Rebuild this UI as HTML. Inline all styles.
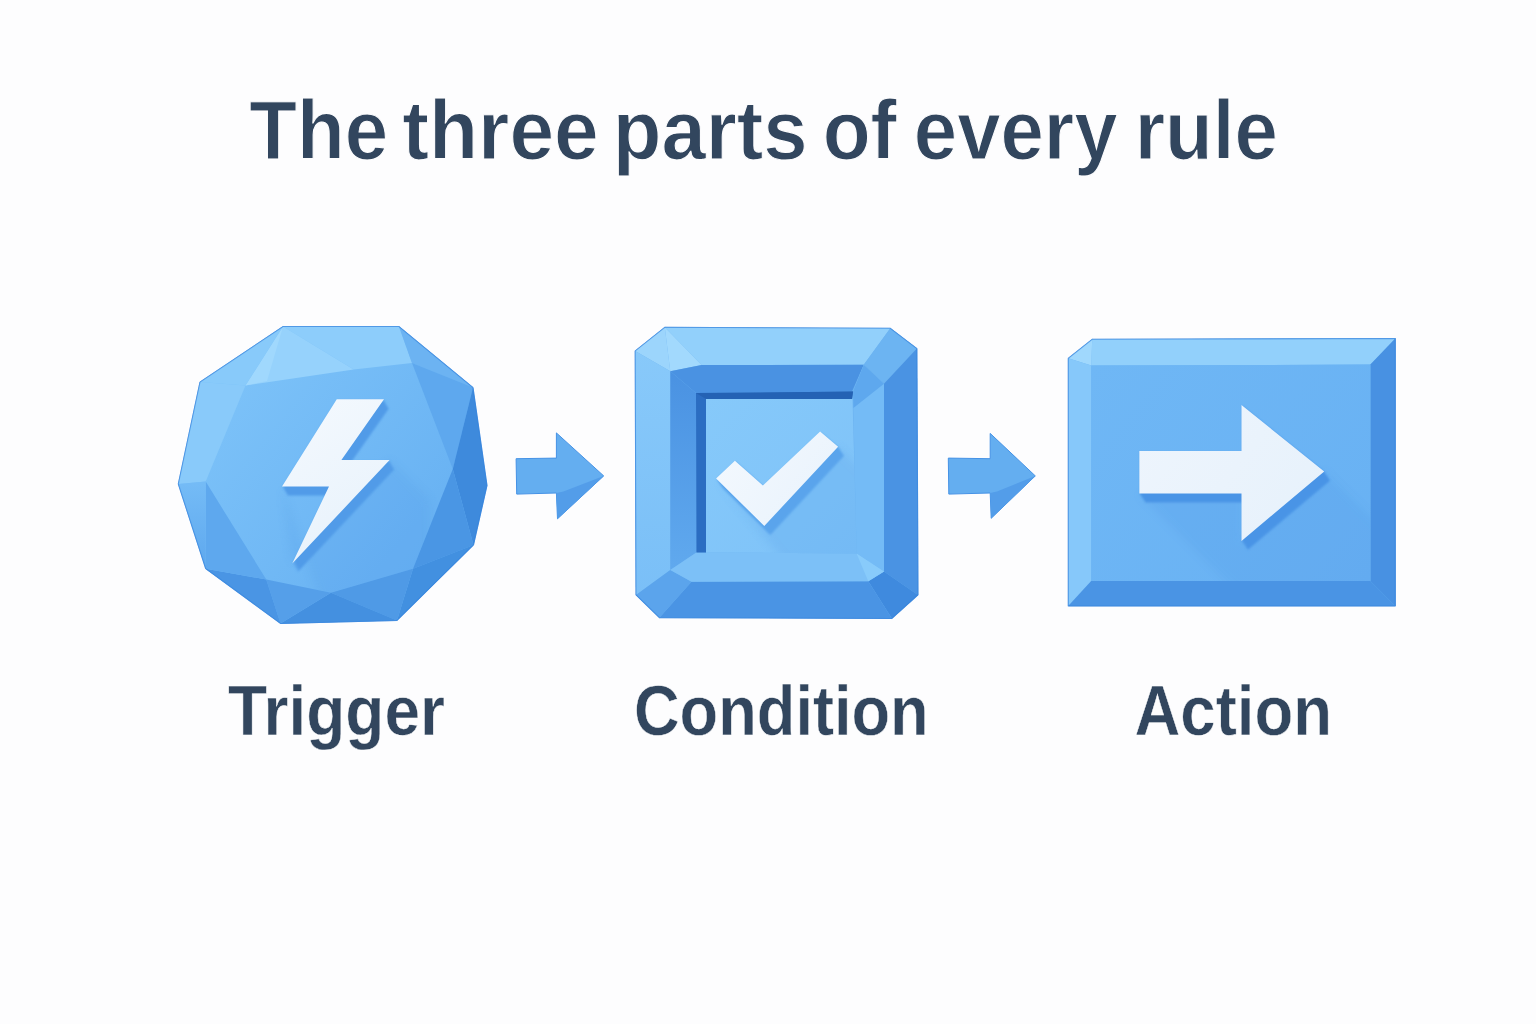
<!DOCTYPE html>
<html><head><meta charset="utf-8">
<style>
html,body{margin:0;padding:0;width:1536px;height:1024px;overflow:hidden;background:#fdfdfe;}
svg{display:block;position:absolute;left:0;top:0;}
</style></head>
<body>
<svg width="1536" height="1024" viewBox="0 0 1536 1024">
<defs>
  <filter id="blur1" x="-20%" y="-20%" width="140%" height="140%"><feGaussianBlur stdDeviation="1.2"/></filter>
  <filter id="blur2" x="-20%" y="-20%" width="140%" height="140%"><feGaussianBlur stdDeviation="2"/></filter>
  <filter id="blur3" x="-30%" y="-30%" width="160%" height="160%"><feGaussianBlur stdDeviation="4"/></filter>
  <clipPath id="clipFace"><polygon points="1091.25,365.5 1370.4,364.6 1370.4,581 1091.25,581"/></clipPath>
  <clipPath id="clipPanel"><polygon points="706,399 852.5,399 856.6,553.4 706,552.5"/></clipPath>
  <clipPath id="clipMain"><polygon points="245.5,385.5 412,363 452.8,469 413,568.7 331,592.8 266.3,579.5 205.7,481.6"/></clipPath>
  <linearGradient id="gMain" gradientUnits="userSpaceOnUse" x1="240" y1="390" x2="450" y2="560">
    <stop offset="0" stop-color="#7bc1f8"/><stop offset="1" stop-color="#66b0f2"/>
  </linearGradient>
  <linearGradient id="gBolt" gradientUnits="userSpaceOnUse" x1="290" y1="400" x2="390" y2="560">
    <stop offset="0" stop-color="#f4f9fe"/><stop offset="1" stop-color="#e6f1fb"/>
  </linearGradient>
  <linearGradient id="gCheck" gradientUnits="userSpaceOnUse" x1="716" y1="430" x2="838" y2="526">
    <stop offset="0" stop-color="#f4f9fe"/><stop offset="1" stop-color="#e8f2fc"/>
  </linearGradient>
  <linearGradient id="gArrow" gradientUnits="userSpaceOnUse" x1="1139" y1="405" x2="1324" y2="541">
    <stop offset="0" stop-color="#eef5fd"/><stop offset="1" stop-color="#e6f1fb"/>
  </linearGradient>
  <linearGradient id="gPanel" gradientUnits="userSpaceOnUse" x1="706" y1="399" x2="855" y2="554">
    <stop offset="0" stop-color="#86c9fa"/><stop offset="1" stop-color="#7ec2f8"/>
  </linearGradient>
  <linearGradient id="gFace" gradientUnits="userSpaceOnUse" x1="1092" y1="365" x2="1370" y2="581">
    <stop offset="0" stop-color="#6fb7f5"/><stop offset="1" stop-color="#68b1f3"/>
  </linearGradient>
  <linearGradient id="gLeftWall" gradientUnits="userSpaceOnUse" x1="0" y1="371" x2="0" y2="570">
    <stop offset="0" stop-color="#4a92e2"/><stop offset="1" stop-color="#60a9ee"/>
  </linearGradient>
  <linearGradient id="gLeftStrip" gradientUnits="userSpaceOnUse" x1="0" y1="484" x2="0" y2="568">
    <stop offset="0" stop-color="#74bbf6"/><stop offset="1" stop-color="#5ea8ee"/>
  </linearGradient>
  <linearGradient id="gLeftBevel" gradientUnits="userSpaceOnUse" x1="0" y1="350" x2="0" y2="595">
    <stop offset="0" stop-color="#88c9fa"/><stop offset="1" stop-color="#7abff7"/>
  </linearGradient>
</defs>
<rect width="1536" height="1024" fill="#fdfdfe"/>

<g font-family="Liberation Sans" font-weight="bold" font-size="83.5" fill="#32465e" stroke="#fdfdfe" stroke-width="1.1">
<text transform="translate(249.33,158.8) scale(0.9345,1)">The</text>
<text transform="translate(402.28,158.8) scale(0.9624,1)">three</text>
<text transform="translate(612.77,158.8) scale(0.9544,1)">parts</text>
<text transform="translate(822.64,158.8) scale(0.9397,1)">of</text>
<text transform="translate(913.76,158.8) scale(0.934,1)">every</text>
<text transform="translate(1134.69,158.8) scale(0.9345,1)">rule</text>
</g>
<g id="gem">
<polygon points="283,326.5 399,326.5 473,387.5 487,485.5 473.5,545 397,620.5 280.5,623.5 205.7,568.7 178.3,484 200,382" fill="url(#gMain)" stroke="#3d8ae0" stroke-opacity="0.7" stroke-width="1"/>
<polygon points="283,326.5 399,326.5 412,363 353.7,369.5" fill="#8dcdfb"/>
<polygon points="283,326.5 353.7,369.5 245.5,385.5" fill="#96d2fc"/>
<polygon points="283,326.5 267,381 245.5,385.5" fill="#a0d8fd"/>
<polygon points="200,382 283,326.5 245.5,385.5" fill="#88cafa"/>
<polygon points="200,382 245.5,385.5 205.7,481.6 178.3,484" fill="#89cafa"/>
<polygon points="399,326.5 473,387.5 412,363" fill="#6cb3f2"/>
<polygon points="412,363 473,387.5 452.8,469" fill="#5ea8ee"/>
<polygon points="473,387.5 487,485.5 473.5,545 452.8,469" fill="#3e8adc"/>
<polygon points="452.8,469 473.5,545 413,568.7" fill="#4a96e4"/>
<polygon points="413,568.7 473.5,545 397,620.5" fill="#4290e0"/>
<polygon points="331,592.8 413,568.7 397,620.5" fill="#4f9ae6"/>
<polygon points="331,592.8 397,620.5 280.5,623.5" fill="#4490e0"/>
<polygon points="266.3,579.5 331,592.8 280.5,623.5" fill="#559fe9"/>
<polygon points="205.7,568.7 266.3,579.5 280.5,623.5" fill="#4a95e4"/>
<polygon points="205.7,481.6 266.3,579.5 205.7,568.7" fill="#5ea8ee"/>
<polygon points="178.3,484 205.7,481.6 205.7,568.7" fill="url(#gLeftStrip)"/>
<g clip-path="url(#clipMain)"><polygon points="282,486.4 292.25,563.4 389.6,460.1 430,500 430,600 320,600" fill="#4f98e6" opacity="0.18" filter="url(#blur3)"/></g>
<polygon points="283,326.5 399,326.5 473,387.5 487,485.5 473.5,545 397,620.5 280.5,623.5 205.7,568.7 178.3,484 200,382" fill="none" stroke="#2f7fdc" stroke-opacity="0.55" stroke-width="1.1"/>
<g fill="#519be8" filter="url(#blur1)"><polygon transform="translate(0.62,1.12)" points="336.75,399.3 384,399.3 341.4,460.1 389.6,460.1 292.25,563.4 329,486.4 282,486.4"/><polygon transform="translate(1.25,2.25)" points="336.75,399.3 384,399.3 341.4,460.1 389.6,460.1 292.25,563.4 329,486.4 282,486.4"/><polygon transform="translate(1.88,3.38)" points="336.75,399.3 384,399.3 341.4,460.1 389.6,460.1 292.25,563.4 329,486.4 282,486.4"/><polygon transform="translate(2.50,4.50)" points="336.75,399.3 384,399.3 341.4,460.1 389.6,460.1 292.25,563.4 329,486.4 282,486.4"/><polygon transform="translate(3.12,5.62)" points="336.75,399.3 384,399.3 341.4,460.1 389.6,460.1 292.25,563.4 329,486.4 282,486.4"/><polygon transform="translate(3.75,6.75)" points="336.75,399.3 384,399.3 341.4,460.1 389.6,460.1 292.25,563.4 329,486.4 282,486.4"/><polygon transform="translate(4.38,7.88)" points="336.75,399.3 384,399.3 341.4,460.1 389.6,460.1 292.25,563.4 329,486.4 282,486.4"/><polygon transform="translate(5.00,9.00)" points="336.75,399.3 384,399.3 341.4,460.1 389.6,460.1 292.25,563.4 329,486.4 282,486.4"/></g>
<polygon points="336.75,399.3 384,399.3 341.4,460.1 389.6,460.1 292.25,563.4 329,486.4 282,486.4" fill="url(#gBolt)"/>
</g>
<polygon points="516.1,458.7 556.4,458.1 556.4,432.9 603.7,475.9 557.5,518.8 556.4,493 516.7,494.1" fill="#64aef0" stroke="#4592e6" stroke-width="1"/>
<polygon points="563.4,491.4 603.7,475.9 557.5,518.8 556.4,493" fill="#539de9"/>
<polygon points="948.3,458.1 990.2,458.7 990.2,433.4 1035.3,475.9 991.2,518.3 990.2,493 948.8,494.1" fill="#64aef0" stroke="#4592e6" stroke-width="1"/>
<polygon points="997,491.4 1035.3,475.9 991.2,518.3 990.2,493" fill="#539de9"/>
<g id="cond">
<polygon points="635.2,350.9 664.8,327.3 890.3,328.3 916.9,348.6 918,595 891.9,618.5 659.4,617.7 636,595" fill="#6cb3f1" stroke="#3d8ae0" stroke-opacity="0.7" stroke-width="1"/>
<polygon points="664.8,327.3 890.3,328.3 863.75,364.7 701.6,365" fill="#92d0fb"/>
<polygon points="635.2,350.9 664.8,327.3 670.3,371.25" fill="#9cd5fc"/>
<polygon points="664.8,327.3 701.6,365 670.3,371.25" fill="#a2d9fd"/>
<polygon points="635.2,350.9 670.3,371.25 670.3,570 636,595" fill="url(#gLeftBevel)"/>
<polygon points="890.3,328.3 916.9,348.6 884,383.75 863.75,364.7" fill="#6cb4f2"/>
<polygon points="916.9,348.6 918,595 884,571.6 884,383.75" fill="#4a93e3"/>
<polygon points="884,571.6 918,595 891.9,618.5 868.3,581.2" fill="#3f8ade"/>
<polygon points="691.5,581.8 868.3,581.2 891.9,618.5 659.4,617.7" fill="#4a94e4"/>
<polygon points="636,595 670.3,570 691.5,581.8 659.4,617.7" fill="#5ba4ec"/>
<polygon points="670.3,371.25 701.6,365 863.75,364.7 852,391.6 696,393" fill="#4a92e2"/>
<polygon points="670.3,371.25 696,393 696.4,552.5 670.3,570" fill="url(#gLeftWall)"/>
<polygon points="863.75,364.7 884,383.75 884,571.6 856.6,553.4 853.4,408 853,391.6" fill="#74bbf6"/>
<polygon points="863.75,364.7 884,383.75 853.4,408 853,391.6" fill="#5ea8ee"/>
<polygon points="670.3,570 696.4,552.5 856.6,553.4 884,571.6 868.3,581.2 691.5,581.8" fill="#7cc0f7"/>
<polygon points="856.6,553.4 884,571.6 868.3,581.2" fill="#88cbfb"/>
<polygon points="696,393 853,391.6 852,399 706,399 706,552.5 696.4,552.5" fill="#2b6dc2"/>
<polygon points="696,393 853,391.6 852,399 706,399" fill="#2462b4"/>
<polygon points="706,399 852.5,399 856.6,553.4 706,552.5" fill="url(#gPanel)"/>
<g clip-path="url(#clipPanel)"><polygon points="716.1,478.5 764.3,526 838.1,446.7 880,489 880,580 800,580" fill="#5aa2ea" opacity="0.25" filter="url(#blur3)"/></g>
<polygon points="635.2,350.9 664.8,327.3 890.3,328.3 916.9,348.6 918,595 891.9,618.5 659.4,617.7 636,595" fill="none" stroke="#2f7fdc" stroke-opacity="0.55" stroke-width="1.1"/>
<g fill="#5aa4ec" filter="url(#blur1)"><polygon transform="translate(0.75,1.12)" points="716.1,478.5 734.9,460.75 762.9,485.4 820.1,431.6 838.1,446.7 764.3,526"/><polygon transform="translate(1.50,2.25)" points="716.1,478.5 734.9,460.75 762.9,485.4 820.1,431.6 838.1,446.7 764.3,526"/><polygon transform="translate(2.25,3.38)" points="716.1,478.5 734.9,460.75 762.9,485.4 820.1,431.6 838.1,446.7 764.3,526"/><polygon transform="translate(3.00,4.50)" points="716.1,478.5 734.9,460.75 762.9,485.4 820.1,431.6 838.1,446.7 764.3,526"/><polygon transform="translate(3.75,5.62)" points="716.1,478.5 734.9,460.75 762.9,485.4 820.1,431.6 838.1,446.7 764.3,526"/><polygon transform="translate(4.50,6.75)" points="716.1,478.5 734.9,460.75 762.9,485.4 820.1,431.6 838.1,446.7 764.3,526"/><polygon transform="translate(5.25,7.88)" points="716.1,478.5 734.9,460.75 762.9,485.4 820.1,431.6 838.1,446.7 764.3,526"/><polygon transform="translate(6.00,9.00)" points="716.1,478.5 734.9,460.75 762.9,485.4 820.1,431.6 838.1,446.7 764.3,526"/></g>
<polygon points="716.1,478.5 734.9,460.75 762.9,485.4 820.1,431.6 838.1,446.7 764.3,526" fill="url(#gCheck)"/>
</g>
<g id="act">
<polygon points="1068.3,358.3 1092.2,339.3 1395.3,338.5 1395.3,606 1068.3,606" fill="#6cb3f1" stroke="#3d8ae0" stroke-opacity="0.7" stroke-width="1"/>
<polygon points="1092.2,339.3 1395.3,338.5 1370.4,364.6 1091.25,365.5" fill="#92d0fb"/>
<polygon points="1068.3,358.3 1092.2,339.3 1091.25,365.5" fill="#a0d8fd"/>
<polygon points="1068.3,358.3 1091.25,365.5 1091.25,581 1068.3,606" fill="#86c8fa"/>
<polygon points="1395.3,338.5 1395.3,606 1370.4,581 1370.4,364.6" fill="#4891e2"/>
<polygon points="1068.3,606 1395.3,606 1370.4,581 1091.25,581" fill="#4a94e4"/>
<polygon points="1091.25,365.5 1370.4,364.6 1370.4,581 1091.25,581" fill="url(#gFace)"/>
<g clip-path="url(#clipFace)"><polygon points="1139.35,493.6 1241.5,493.6 1241.5,540.9 1324.2,471.5 1380,527 1380,590 1236,590" fill="#4f98e6" opacity="0.2" filter="url(#blur3)"/></g>
<polygon points="1068.3,358.3 1092.2,339.3 1395.3,338.5 1395.3,606 1068.3,606" fill="none" stroke="#2f7fdc" stroke-opacity="0.55" stroke-width="1.1"/>
<g fill="#4a94e6" filter="url(#blur1)"><polygon transform="translate(0.75,1.12)" points="1139.35,451.1 1241.5,451.1 1241.5,405 1324.2,471.5 1241.5,540.9 1241.5,493.6 1139.35,493.6"/><polygon transform="translate(1.50,2.25)" points="1139.35,451.1 1241.5,451.1 1241.5,405 1324.2,471.5 1241.5,540.9 1241.5,493.6 1139.35,493.6"/><polygon transform="translate(2.25,3.38)" points="1139.35,451.1 1241.5,451.1 1241.5,405 1324.2,471.5 1241.5,540.9 1241.5,493.6 1139.35,493.6"/><polygon transform="translate(3.00,4.50)" points="1139.35,451.1 1241.5,451.1 1241.5,405 1324.2,471.5 1241.5,540.9 1241.5,493.6 1139.35,493.6"/><polygon transform="translate(3.75,5.62)" points="1139.35,451.1 1241.5,451.1 1241.5,405 1324.2,471.5 1241.5,540.9 1241.5,493.6 1139.35,493.6"/><polygon transform="translate(4.50,6.75)" points="1139.35,451.1 1241.5,451.1 1241.5,405 1324.2,471.5 1241.5,540.9 1241.5,493.6 1139.35,493.6"/><polygon transform="translate(5.25,7.88)" points="1139.35,451.1 1241.5,451.1 1241.5,405 1324.2,471.5 1241.5,540.9 1241.5,493.6 1139.35,493.6"/><polygon transform="translate(6.00,9.00)" points="1139.35,451.1 1241.5,451.1 1241.5,405 1324.2,471.5 1241.5,540.9 1241.5,493.6 1139.35,493.6"/></g>
<polygon points="1139.35,451.1 1241.5,451.1 1241.5,405 1324.2,471.5 1241.5,540.9 1241.5,493.6 1139.35,493.6" fill="url(#gArrow)"/>
</g>
<g font-family="Liberation Sans" font-weight="bold" font-size="69.5" fill="#32465e" stroke="#fdfdfe" stroke-width="0.5">
<text transform="translate(228,735) scale(0.921,1)">Trigger</text>
<text transform="translate(634,735) scale(0.909,1)">Condition</text>
<text transform="translate(1134.5,735) scale(0.914,1)">Action</text>
</g>
</svg>
</body></html>
